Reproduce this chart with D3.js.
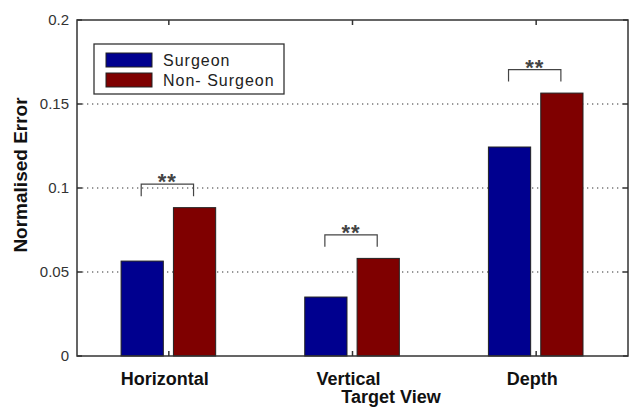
<!DOCTYPE html>
<html>
<head>
<meta charset="utf-8">
<script src="https://cdn.jsdelivr.net/npm/d3@7"></script>
<style>
  body { margin: 0; background: #fff; }
  text { font-family: "Liberation Sans", Arial, sans-serif; }
</style>
</head>
<body>
<div class="chart"></div>
<script>
var width = 630;
var height = 408;

var categories = ["Horizontal", "Vertical", "Depth"];
var series = ["Surgeon", "Non- Surgeon"];
var surgeon = [0.0565, 0.0351, 0.1244];
var nonSurgeon = [0.0883, 0.0581, 0.1565];
var yTicks = [0, 0.05, 0.1, 0.15, 0.2];
var gridTicks = [0.05, 0.1, 0.15];
var significance = ["**", "**", "**"];

var colors = ["#00008f", "#7f0000"];
var values = [surgeon, nonSurgeon];

var plotLeft = 77, plotRight = 628, plotTop = 20, plotBottom = 356;

var svg = d3.select("div.chart").append("svg")
    .attr("width", width)
    .attr("height", height);

var x = d3.scaleLinear().domain([0.5, 3.5]).range([plotLeft, plotRight]);
var y = d3.scaleLinear().domain([0, 0.2]).range([plotBottom, plotTop]);

// bar offsets within a group, in x units
var barWidth = 0.23;
var offsets = [-0.145, 0.14];

// dotted grid
svg.selectAll("line.grid").data(gridTicks).enter()
    .append("line")
    .attr("x1", plotLeft).attr("x2", plotRight)
    .attr("y1", function(d){ return y(d) }).attr("y2", function(d){ return y(d) })
    .attr("stroke", "#777")
    .attr("stroke-width", 1.3)
    .attr("stroke-dasharray", "1.3,3.7");

// bars
var data = []
for (var s = 0; s < series.length; s++) {
  for (var k = 0; k < categories.length; k++) {
    data.push({ cat: k + 1, s: s, v: values[s][k] })
  }
}

svg.selectAll("rect.bar").data(data).enter()
    .append("rect")
    .attr("x", function(d){ return x(d.cat + offsets[d.s] - barWidth / 2) })
    .attr("width", x(barWidth) - x(0))
    .attr("y", function(d){ return y(d.v) })
    .attr("height", function(d){ return y(0) - y(d.v) })
    .attr("fill", function(d){ return colors[d.s] })
    .attr("stroke", "#222")
    .attr("stroke-width", 1);

// significance brackets
var sig = svg.append("g");
categories.forEach(function(c, k) {
  var topV = Math.max(surgeon[k], nonSurgeon[k]) + 0.014;
  var x1 = x(k + 1 + offsets[0]) - 1, x2 = x(k + 1 + offsets[1]) - 1;
  sig.append("path")
      .attr("d", "M" + x1 + "," + (y(topV) + 12) + "V" + y(topV) + "H" + x2 + "V" + (y(topV) + 12))
      .attr("fill", "none")
      .attr("stroke", "#444")
      .attr("stroke-width", 1.2);
  sig.append("text")
      .attr("x", (x1 + x2) / 2)
      .attr("y", y(topV) + 5)
      .attr("text-anchor", "middle")
      .attr("font-size", 22)
      .attr("font-weight", "bold")
      .attr("fill", "#444")
      .attr("letter-spacing", 1)
      .text(significance[k]);
});

// box and ticks
svg.append("rect")
    .attr("x", plotLeft).attr("y", plotTop)
    .attr("width", plotRight - plotLeft).attr("height", plotBottom - plotTop)
    .attr("fill", "none")
    .attr("stroke", "#333")
    .attr("stroke-width", 1.5);

var ticks = svg.append("g").attr("stroke", "#333").attr("stroke-width", 1.5);
yTicks.forEach(function(t) {
  ticks.append("line").attr("x1", plotLeft).attr("x2", plotLeft + 5).attr("y1", y(t)).attr("y2", y(t));
  ticks.append("line").attr("x1", plotRight - 5).attr("x2", plotRight).attr("y1", y(t)).attr("y2", y(t));
});
categories.forEach(function(c, k) {
  ticks.append("line").attr("x1", x(k + 1)).attr("x2", x(k + 1)).attr("y1", plotBottom).attr("y2", plotBottom - 5);
  ticks.append("line").attr("x1", x(k + 1)).attr("x2", x(k + 1)).attr("y1", plotTop).attr("y2", plotTop + 5);
});

svg.selectAll("text.ytick").data(yTicks).enter()
    .append("text")
    .attr("x", plotLeft - 8)
    .attr("y", function(d){ return y(d) + 5 })
    .attr("text-anchor", "end")
    .attr("font-size", 15)
    .attr("fill", "#333")
    .text(function(d){ return d === 0 ? "0" : String(d) });

svg.selectAll("text.xtick").data(categories).enter()
    .append("text")
    .attr("x", function(d, i){ return x(i + 1) - 4 })
    .attr("y", 385)
    .attr("text-anchor", "middle")
    .attr("font-size", 18)
    .attr("font-weight", "bold")
    .attr("fill", "#111")
    .text(function(d){ return d });

svg.append("text")
    .attr("x", 391)
    .attr("y", 403)
    .attr("text-anchor", "middle")
    .attr("font-size", 18)
    .attr("font-weight", "bold")
    .attr("fill", "#111")
    .text("Target View");

svg.append("text")
    .attr("transform", "translate(27,175) rotate(-90)")
    .attr("text-anchor", "middle")
    .attr("font-size", 19)
    .attr("font-weight", "bold")
    .attr("fill", "#111")
    .text("Normalised Error");

// legend
var legend = svg.append("g");
legend.append("rect")
    .attr("x", 94).attr("y", 44).attr("width", 190).attr("height", 50)
    .attr("fill", "#fff").attr("stroke", "#333").attr("stroke-width", 1.3);
series.forEach(function(s, i) {
  legend.append("rect")
      .attr("x", 106).attr("y", 53 + i * 20).attr("width", 46).attr("height", 14)
      .attr("fill", colors[i]).attr("stroke", "#222").attr("stroke-width", 1);
  legend.append("text")
      .attr("x", 163).attr("y", 66 + i * 20)
      .attr("font-size", 16)
      .attr("letter-spacing", 1)
      .attr("fill", "#222")
      .text(s);
});
</script>
</body>
</html>
